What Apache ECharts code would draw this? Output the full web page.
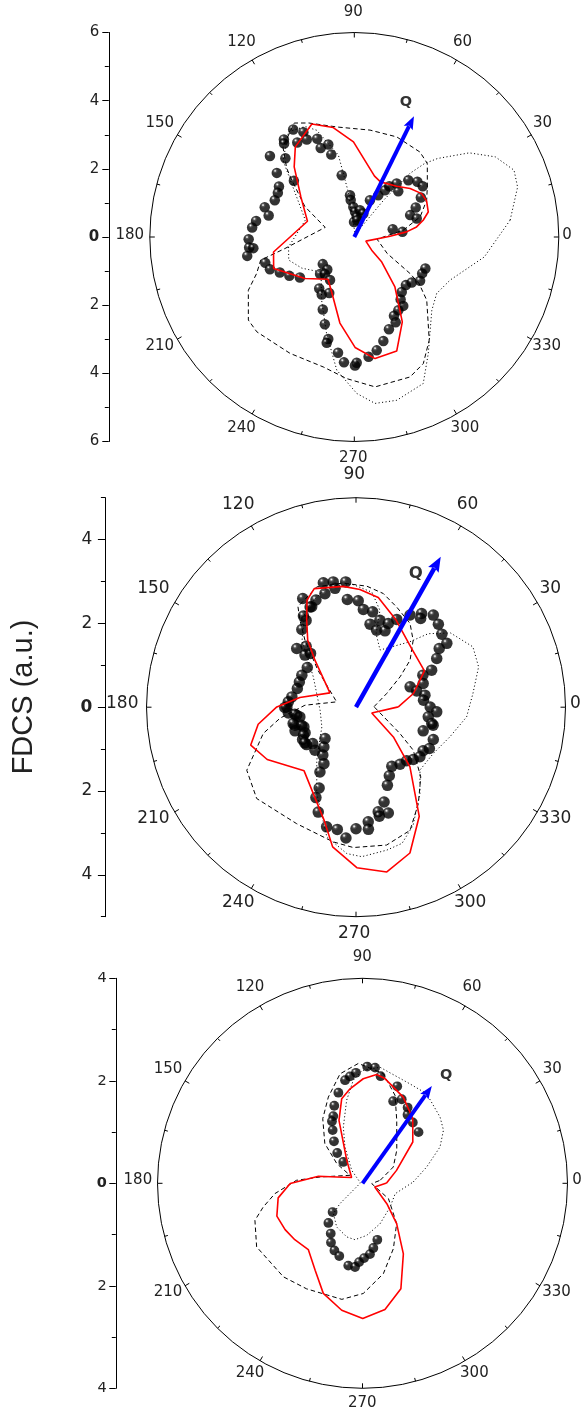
<!DOCTYPE html>
<html><head><meta charset="utf-8">
<script src="https://cdn.jsdelivr.net/npm/echarts@6/dist/echarts.min.js"></script>
<style>html,body{margin:0;padding:0;background:#fff}#c{width:586px;height:1412px}</style>
</head><body><div id="c"></div>
<script>
// ---------- data: [angle (deg), FDCS (a.u.)] ----------
const angleLabels = [0, 30, 60, 90, 120, 150, 180, 210, 240, 270, 300, 330];
const qAngle = [63.7, 60.6, 54.5];
const qLength = [3.95, 4.12, 2.33];

const p1Red = [[1.3,1.05],[5.6,1.54],[9.2,1.85],[13.7,2.08],[18.7,2.29],[26.5,2.37],[32.8,2.35],[41.0,2.17],[50.2,1.94],[64.6,1.79],[71.6,1.88],[90.5,2.79],[100.9,3.27],[110.6,3.54],[123.2,3.16],[130.6,2.71],[143.1,1.96],[161.4,1.45],[190.5,2.41],[201.3,2.54],[220.1,1.89],[238.1,1.46],[248.5,1.78],[260.5,2.56],[270.4,3.24],[279.7,3.62],[290.4,3.57],[299.5,2.86],[309.1,1.89],[317.7,1.09],[322.8,0.64],[340.3,0.36]];
const p1Dash = [[7.9,1.45],[17.0,2.02],[26.9,2.38],[34.5,2.60],[45.2,3.04],[52.3,3.15],[67.0,3.19],[81.6,3.17],[99.1,3.27],[111.7,3.60],[117.8,3.78],[128.4,3.37],[134.5,2.83],[137.7,2.48],[148.4,1.70],[161.7,0.90],[189.4,2.06],[193.9,2.83],[200.5,3.06],[206.7,3.48],[218.1,3.95],[224.2,3.99],[241.1,3.90],[256.6,3.92],[266.9,4.16],[277.9,4.44],[291.7,4.42],[298.6,4.23],[306.0,3.74],[318.9,2.82],[324.3,2.34],[326.8,1.95],[333.4,1.08],[354.5,0.67]];
const p1Dot = [[6.2,4.60],[17.0,5.01],[22.7,5.08],[29.6,4.76],[36.2,4.18],[43.3,3.36],[46.3,2.98],[48.9,2.47],[51.5,1.38],[72,0.08],[97.6,1.33],[101,2.45],[109.4,3.32],[114,3.55],[122.0,3.64],[132.9,3.07],[142.1,2.24],[161.0,1.52],[188.6,1.95],[199.4,2.04],[210.7,1.79],[226.6,1.42],[242.7,2.09],[254.0,2.95],[262.5,3.94],[270.9,4.59],[277.1,4.92],[284.6,4.95],[295.2,4.75],[302.4,4.05],[316.6,3.13],[325.6,2.93],[335.7,3.08],[351.3,3.86]];
const p1Exp = [[119.6,3.63],[115.9,3.42],[125.8,3.53],[126.9,3.43],[121.1,3.24],[116.0,3.18],[110.7,3.08],[105.7,2.82],[110.7,2.79],[105.6,2.51],[136.2,3.43],[131.2,3.07],[101.5,1.85],[140.4,2.95],[137.1,2.42],[146.2,2.66],[150.0,2.59],[155.2,2.57],[161.6,2.77],[165.9,2.59],[170.7,2.92],[174.7,3.01],[181.2,3.10],[185.7,3.10],[186.3,2.98],[190.0,3.19],[196.2,2.72],[200.9,2.65],[205.5,2.42],[210.9,2.22],[216.7,1.99],
 [95.9,1.23],[95.6,1.09],[91.9,0.88],[88.4,0.74],[83.2,0.59],[91.1,0.44],[80,0.50],[78.0,0.80],[69.0,0.74],[66.9,1.17],[60.1,1.41],[56.7,1.64],[55.4,1.81],[51.6,2.00],[46.1,1.86],[46.4,2.30],[41.2,2.46],[36.6,2.50],[30.7,2.27],[25.7,2.00],[21.4,1.76],[16.5,1.91],[11.5,1.15],[6.1,1.42],
 [220.7,1.22],[230.3,1.24],[227.3,1.48],[231.5,1.39],[240.6,1.45],[235.8,1.83],[240.5,1.94],[245.9,1.80],[246.5,2.32],[251.3,2.70],[255.7,3.09],[255.4,3.21],[262.0,3.43],[265.3,3.69],[270.3,3.77],[271.1,3.69],[276.8,3.54],[281.2,3.39],[285.6,3.17],[290.6,2.89],[295.9,2.78],[296.7,2.59],[301.0,2.51],[305.4,2.48],[306.6,2.28],[310.8,2.13],[317.0,2.07],[321.6,2.15],[326.3,2.32],[331.8,2.26],[336.1,2.28]];

const p2Red = [[0.4,1.01],[13.4,1.41],[28,1.85],[46.5,1.93],[65.3,2.29],[78.5,2.67],[88.1,2.81],[96.0,2.90],[109.4,3.00],[114.6,2.81],[119.5,2.39],[125.8,1.97],[131.1,1.49],[151.2,0.71],[170.2,1.36],[179.8,1.89],[189.9,2.37],[199.8,2.67],[210.5,2.46],[230.8,1.96],[243.7,2.30],[254.2,2.80],[260.5,3.38],[270.3,3.83],[280.6,4.00],[290.3,3.71],[300.1,3.01],[312.1,1.92],[321.5,1.14],[340.0,0.40]];
const p2Dash = [[1.6,0.43],[24.0,0.80],[34.6,1.28],[41.0,1.71],[49.5,2.10],[57.2,2.38],[67.9,2.58],[76.5,2.79],[84.9,2.90],[96.2,2.98],[108.1,3.02],[120.0,2.77],[122.8,2.47],[127.3,2.01],[135.8,1.27],[164.6,0.48],[177.8,1.22],[188.2,1.83],[195.8,2.30],[210.0,3.01],[222.6,3.22],[243.0,3.12],[260.4,3.26],[268.9,3.35],[282.5,3.37],[293.7,3.21],[302.9,2.74],[312.9,2.27],[323.1,1.71],[329.1,1.22]];
const p2Dot = [[6.7,2.81],[18.2,3.08],[27.3,3.14],[38.1,2.87],[45.5,2.46],[50.6,2.02],[67.2,1.48],[74.7,1.82],[76.1,2.38],[82.1,2.77],[91.9,2.94],[104.6,2.93],[117.7,2.62],[128.9,2.05],[144.6,1.25],[184.8,0.86],[209.9,0.94],[233.4,1.57],[245.5,2.26],[257.3,3.17],[266.4,3.50],[272.2,3.57],[282.1,3.49],[288.7,3.43],[295.8,3.13],[306.6,2.56],[315.5,2.14],[329.1,2.15],[342.5,2.35],[355.0,2.65]];
const p2Exp = [[104.7,3.07],[100.3,3.04],[94.7,3.00],[100.0,2.88],[105.3,2.81],[110.5,2.73],[116.1,2.89],[113.8,2.62],[94.6,2.58],[88.8,2.54],[85.7,2.34],[80.1,2.31],[74.6,2.15],[80.4,2.01],[75.0,1.90],[69.2,1.95],[68.9,2.14],[65.1,2.31],[59.6,2.55],[55.0,2.73],[53.9,2.62],[50.0,2.87],[45.2,2.79],[40.4,2.69],[35.1,2.65],[35.2,2.43],[31.1,2.25],[26.1,2.01],[25.6,1.77],[19.4,1.70],[20.6,1.38],[15.0,1.50],[9.9,1.67],[5.9,1.62],[0.2,1.77],[356.7,1.93],[352.4,1.74],[347.8,1.85],[346.9,1.89],[340.6,1.70],[337.3,2.00],[330.6,2.01],[327.0,1.91],[322.2,1.93],[317.6,1.85],[313.4,1.76],[307.7,1.72],[301.2,1.65],[295.9,1.82],[291.9,2.01],[286.5,2.36],[287.0,2.64],[282.0,2.55],[282.1,2.66],[276.1,2.75],[275.8,2.93],[270.0,2.90],[265.6,3.13],[261.3,2.95],[256.2,2.94],[250.2,2.66],[246.1,2.36],[245.5,2.12],[240.9,1.77],[240.4,1.55],[235.3,1.39],[231.1,1.22],[225.3,1.05],[226.4,1.42],[220.0,1.35],[217.1,1.48],[211.2,1.49],[206.7,1.36],[201.2,1.56],[200.7,1.33],[196.4,1.52],[187.7,1.43],[184.8,1.62],[198.3,1.37],[194.6,1.55],[189.8,1.36],[186.5,1.47],[179.8,1.65],[175.5,1.62],[170.9,1.55],[162.3,1.47],[156.0,1.48],[149.5,1.50],[140.8,1.50],[134.4,1.74],[130.2,1.68],[135.3,1.99],[129.3,1.88],[124.9,2.26],[119.9,2.39],[120.0,2.51],[114.6,2.63],[208.1,1.42],[214.8,1.49],[180.2,1.70]];

const p3Red = [[0.7,0.47],[20.8,0.71],[39.4,1.27],[52.2,1.60],[64.7,1.86],[77.9,2.09],[82.6,2.14],[89.6,2.04],[97.5,1.86],[103.8,1.70],[110.5,1.31],[124.5,0.54],[152.2,0.24],[166.3,0.52],[171.0,0.87],[180.2,1.41],[189.8,1.67],[201.0,1.79],[210.9,1.76],[219.8,1.72],[230.7,1.67],[241.4,1.93],[250.4,2.28],[260.7,2.51],[270.1,2.64],[280.1,2.50],[290.0,2.19],[300.1,1.59],[310.3,1.03],[320.0,0.62],[343.5,0.25]];
const p3Dash = [[9.7,0.35],[27.9,0.68],[44.0,0.93],[61.5,1.40],[69.7,1.83],[79.3,2.18],[92.0,2.34],[101.6,2.18],[111.6,1.81],[121.6,1.48],[133.4,1.07],[142.6,0.63],[147.4,0.29],[171.6,0.84],[177.4,1.29],[186.7,1.72],[193.4,1.99],[199.0,2.22],[211.0,2.41],[229.8,2.39],[242.1,2.33],[259.9,2.30],[270.4,2.15],[283.0,1.81],[295.3,1.41],[310.3,1.03],[329.3,0.59],[358.0,0.18]];
const p3Dot = [[1.5,0.99],[14.2,1.29],[25.1,1.67],[33.3,1.89],[40.5,1.99],[54.4,2.15],[64.7,2.15],[81.4,2.29],[90.3,2.20],[95.1,2.02],[100.8,1.65],[108.8,1.16],[115.7,0.79],[129.7,0.33],[170,0.04],[222.0,0.59],[226.1,0.82],[239.4,0.99],[253.6,1.09],[262.4,1.11],[274.6,1.02],[293.5,0.86],[319.2,0.71],[342.4,0.67]];
const p3Exp = [[87.7,2.28],[83.8,2.27],[80.4,2.12],[93.4,2.16],[96.7,2.10],[99.6,2.04],[104.9,1.83],[110.0,1.61],[113.5,1.43],[116.2,1.35],[119.3,1.19],[124.2,0.99],[129.8,0.77],[132.0,0.56],[70.3,2.01],[65.0,1.81],[69.5,1.71],[59.2,1.72],[56.7,1.60],[50.4,1.54],[42.4,1.48],[223.9,0.81],[229.3,1.02],[237.7,1.16],[242.0,1.31],[247.3,1.42],[252.3,1.49],[260.2,1.63],[264.9,1.64],[267.5,1.54],[271.2,1.46],[276.0,1.39],[279.5,1.28],[284.7,1.14]];

// ---------- layout / style ----------
const FONT = 'DejaVu Sans';
const TXT = '#222';
const panels = [
  {cx:354.3, cy:237, R:204.5, max:6, step:2, axisX:108.8, fs:15, yfs:15, ym:9.5, dot:10.5,
   lab:{gx:4.6,bx:-1.1,gy:18.25,by:-2.05}, q:{dx:-8,dy:-14.3,fs:14.5}, head:[13,5], lw:4,
   red:p1Red, dash:p1Dash, dotted:p1Dot, exp:p1Exp},
  {cx:356, cy:707.2, R:209.5, max:5, step:2, axisX:105.4, fs:17, yfs:17, ym:13, dot:11.5,
   lab:{gx:6.2,bx:-1.8,gy:20.15,by:-3.35}, q:{dx:-25,dy:16.6,fs:16.5}, head:[15,6], lw:4.5,
   red:p2Red, dash:p2Dash, dotted:p2Dot, exp:p2Exp},
  {cx:362.5, cy:1183.3, R:205, max:4, step:2, axisX:115.8, fs:15, yfs:14.5, ym:9, dot:9.8,
   lab:{gx:5.0,bx:-0.3,gy:18,by:-3}, q:{dx:14.3,dy:-11,fs:14.5}, head:[13,5], lw:4,
   red:p3Red, dash:p3Dash, dotted:p3Dot, exp:p3Exp}
];

const toPolar = arr => arr.map(d => [d[1], d[0]]);
const closed = arr => { const a = toPolar(arr); a.push(a[0].slice()); return a; };
const ball = new echarts.graphic.RadialGradient(0.34, 0.3, 0.72, [
  {offset:0, color:'#ffffff'}, {offset:0.07, color:'#c8c8c8'},
  {offset:0.2, color:'#2a2a2a'}, {offset:0.38, color:'#000000'}, {offset:1, color:'#000000'}]);

const polar = [], angleAxis = [], radiusAxis = [], grid = [], xAxis = [], yAxis = [], series = [];

function yLabelFmt(v) { return v === 0 ? '{b|0}' : String(Math.abs(v)); }

panels.forEach((p, i) => {
  polar.push({center:[p.cx, p.cy], radius:p.R});
  angleAxis.push({polarIndex:i, type:'value', min:0, max:360, interval:30, startAngle:0, clockwise:false,
    axisLine:{lineStyle:{color:'#000', width:1}},
    axisTick:{show:true, inside:true, length:5, lineStyle:{color:'#000', width:1}},
    minorTick:{show:true, splitNumber:2, length:3.5, lineStyle:{color:'#000', width:1}},
    axisLabel:{show:false}, splitLine:{show:false}, minorSplitLine:{show:false}});
  radiusAxis.push({polarIndex:i, type:'value', min:0, max:p.max, show:false,
    axisLine:{show:false}, axisTick:{show:false}, axisLabel:{show:false}, splitLine:{show:false}});

  const unit = p.R / p.max;
  const labelStyle = {fontSize:p.yfs, fontFamily:FONT, color:TXT, margin:p.ym, formatter:yLabelFmt,
    rich:{b:{fontSize:p.yfs, fontFamily:FONT, color:TXT, fontWeight:'bold'}}};
  if (p.max % p.step === 0) {
    const gi = grid.length;
    grid.push({left:p.axisX, top:p.cy - p.R, width:10, height:2*p.R});
    xAxis.push({gridIndex:gi, type:'value', show:false, min:0, max:1});
    yAxis.push({gridIndex:gi, type:'value', min:-p.max, max:p.max, interval:p.step, position:'left',
      axisLine:{show:true, lineStyle:{color:'#000', width:1}},
      axisTick:{show:true, length:6.5, lineStyle:{color:'#000'}},
      minorTick:{show:true, splitNumber:p.step, length:4, lineStyle:{color:'#000'}},
      splitLine:{show:false}, axisLabel:labelStyle});
  } else {
    let gi = grid.length;
    grid.push({left:p.axisX, top:p.cy - p.R, width:10, height:2*p.R});
    xAxis.push({gridIndex:gi, type:'value', show:false, min:0, max:1});
    yAxis.push({gridIndex:gi, type:'value', min:-p.max, max:p.max, interval:1, position:'left',
      axisLine:{show:true, lineStyle:{color:'#000', width:1}},
      axisTick:{show:true, length:4.5, lineStyle:{color:'#000'}},
      splitLine:{show:false}, axisLabel:{show:false}});
    const m = p.max - 1;
    gi = grid.length;
    grid.push({left:p.axisX, top:p.cy - m*unit, width:10, height:2*m*unit});
    xAxis.push({gridIndex:gi, type:'value', show:false, min:0, max:1});
    yAxis.push({gridIndex:gi, type:'value', min:-m, max:m, interval:p.step, position:'left',
      axisLine:{show:false},
      axisTick:{show:true, length:7.5, lineStyle:{color:'#000'}},
      splitLine:{show:false}, axisLabel:labelStyle});
  }

  const base = {coordinateSystem:'polar', polarIndex:i, silent:true, animation:false};
  series.push(Object.assign({type:'line', data:closed(p.dotted), symbol:'none',
    lineStyle:{color:'#000', width:1, type:[1.1, 2.4]}}, base));
  series.push(Object.assign({type:'line', data:closed(p.dash), symbol:'none',
    lineStyle:{color:'#000', width:1, type:[4.5, 3]}}, base));
  series.push(Object.assign({type:'line', data:closed(p.red), symbol:'none',
    lineStyle:{color:'#ff0000', width:1.6}}, base));
  series.push(Object.assign({type:'scatter', data:toPolar(p.exp), symbol:'circle', symbolSize:p.dot,
    itemStyle:{color:ball}}, base));
  series.push(Object.assign({type:'custom', data:[[qLength[i], qAngle[i]]], z:5,
    renderItem:(params, api) => {
      const r = api.value(0), a = api.value(1);
      const p0 = api.coord([0, a]), p1 = api.coord([r, a]);
      const dx = p1[0]-p0[0], dy = p1[1]-p0[1], L = Math.hypot(dx, dy);
      const ux = dx/L, uy = dy/L, nx = -uy, ny = ux;
      const hl = p.head[0], hw = p.head[1];
      const bx = p1[0]-ux*hl, by = p1[1]-uy*hl;
      return {type:'group', children:[
        {type:'line', shape:{x1:p0[0], y1:p0[1], x2:bx+ux*2, y2:by+uy*2}, style:{stroke:'#0000ff', lineWidth:p.lw}},
        {type:'polygon', shape:{points:[[p1[0],p1[1]],[bx+nx*hw,by+ny*hw],[bx+ux*2.5,by+uy*2.5],[bx-nx*hw,by-ny*hw]]}, style:{fill:'#0000ff'}},
        {type:'text', x:p1[0]+p.q.dx, y:p1[1]+p.q.dy, style:{text:'Q', fill:'#333', fontSize:p.q.fs, fontFamily:FONT, fontWeight:'bold', align:'center', verticalAlign:'middle'}}
      ]};
    }}, base));
  series.push(Object.assign({type:'custom', data:angleLabels.map(a => [p.max, a]), z:5,
    renderItem:(params, api) => {
      const a = api.value(1);
      const pt = api.coord([p.max, a]);
      const rad = a*Math.PI/180, c = Math.cos(rad), s = Math.sin(rad);
      const txt = String(a);
      const w = txt.length*0.636*p.fs;
      return {type:'text', x:pt[0] + c*(p.lab.gx + w/2) + p.lab.bx, y:pt[1] - s*p.lab.gy + p.lab.by,
        style:{text:txt, fill:TXT, fontSize:p.fs, fontFamily:FONT, align:'center', verticalAlign:'middle'}};
    }}, base));
});

const chart = echarts.init(document.getElementById('c'), null, {width:586, height:1412, renderer:'canvas'});
chart.setOption({
  animation:false, backgroundColor:'#fff',
  textStyle:{fontFamily:FONT},
  polar, angleAxis, radiusAxis, grid, xAxis, yAxis, series,
  graphic:[{type:'text', x:24, y:697, rotation:Math.PI/2, silent:true,
    style:{text:'FDCS (a.u.)', fontSize:29, fontFamily:'Liberation Sans', fill:TXT, align:'center', verticalAlign:'middle'}}]
});
</script></body></html>
